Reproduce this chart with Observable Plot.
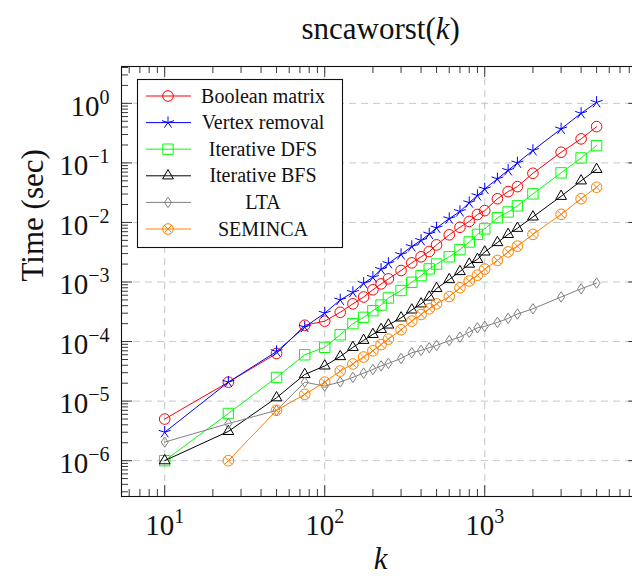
<!DOCTYPE html>
<html><head><meta charset="utf-8">
<script src="https://cdn.jsdelivr.net/npm/d3@7"></script>
<script src="https://cdn.jsdelivr.net/npm/@observablehq/plot@0.6"></script>
<style>
html,body{margin:0;padding:0;background:#fff;overflow:hidden;width:632px;height:576px;}
#wrap{position:relative;width:632px;height:576px;overflow:hidden;}
#wrap svg.plot{overflow:hidden;}
#legend{position:absolute;left:137px;top:79px;overflow:visible;}
</style></head>
<body><div id="wrap"></div>
<script>
// ---------- data ----------
const k = [10,25,50,75,100,125,150,175,200,225,250,300,350,400,450,500,600,700,800,900,1000,1200,1400,1600,2000,3000,4000,5000];
const booleanMatrix = [5.0e-6,2.08e-5,6.3e-5,1.88e-4,2.2e-4,3.1e-4,4.3e-4,5.6e-4,7.4e-4,9.3e-4,1.13e-3,1.56e-3,2.1e-3,2.65e-3,3.25e-3,4.2e-3,6.2e-3,8.3e-3,1.04e-2,1.36e-2,1.58e-2,2.5e-2,3.3e-2,4.0e-2,6.7e-2,0.151,0.253,0.406];
const vertexRemoval = [3.0e-6,2.08e-5,6.8e-5,1.75e-4,3.0e-4,5.0e-4,6.7e-4,9.5e-4,1.2e-3,1.63e-3,2.05e-3,2.9e-3,3.95e-3,5.0e-3,6.4e-3,8.1e-3,1.16e-2,1.53e-2,2.15e-2,2.83e-2,3.66e-2,5.4e-2,7.5e-2,0.1,0.162,0.372,0.68,1.04];
const iterativeDFS = [1.0e-6,6.2e-6,2.5e-5,6.0e-5,8.0e-5,1.3e-4,2.0e-4,2.55e-4,3.3e-4,4.1e-4,5.4e-4,7.2e-4,9.9e-4,1.28e-3,1.66e-3,2.0e-3,2.65e-3,3.5e-3,4.7e-3,6.3e-3,7.8e-3,1.2e-2,1.5e-2,1.9e-2,3.02e-2,6.8e-2,0.121,0.195];
const iterativeBFS = [1.0e-6,3.1e-6,1.14e-5,2.8e-5,3.9e-5,5.6e-5,8.0e-5,1.05e-4,1.32e-4,1.6e-4,1.9e-4,2.5e-4,3.4e-4,4.3e-4,5.6e-4,7.8e-4,1.1e-3,1.5e-3,2.0e-3,2.4e-3,3.2e-3,4.6e-3,6.3e-3,8.0e-3,1.24e-2,2.75e-2,5.0e-2,7.8e-2];
const lta = [2.05e-6,4.2e-6,7.0e-6,2.08e-5,1.79e-5,2.1e-5,2.5e-5,2.95e-5,3.4e-5,3.9e-5,4.3e-5,5.2e-5,6.5e-5,7.1e-5,7.9e-5,8.6e-5,1.04e-4,1.19e-4,1.44e-4,1.7e-4,1.8e-4,2.1e-4,2.45e-4,2.9e-4,3.55e-4,5.6e-4,7.7e-4,9.6e-4];
const seminca = [null,1.0e-6,7.0e-6,1.3e-5,2.08e-5,3.2e-5,4.2e-5,5.5e-5,7.0e-5,8.9e-5,1.1e-4,1.58e-4,2.2e-4,2.85e-4,3.55e-4,4.3e-4,5.7e-4,8.0e-4,1.04e-3,1.3e-3,1.65e-3,2.3e-3,3.2e-3,4.0e-3,6.3e-3,1.37e-2,2.5e-2,3.9e-2];

const seriesNames = ["Boolean matrix","Vertex removal","Iterative DFS","Iterative BFS","LTA","SEMINCA"];
const seriesValues = [booleanMatrix, vertexRemoval, iterativeDFS, iterativeBFS, lta, seminca];
const seriesColors = ["#ff0000","#0000ff","#00ff00","#000000","#808080","#ff8000"];

const xTickExps = [1,2,3];
const yTickExps = [-6,-5,-4,-3,-2,-1,0];
const titleText = "sncaworst(k)";
const xLabel = "k";
const yLabel = "Time (sec)";

// ---------- symbols ----------
const R = s => Math.sqrt(s/Math.PI);
const symCircle = {draw(c,s){const r=R(s); c.moveTo(r,0); c.arc(0,0,r,0,2*Math.PI);}};
const symStar = {draw(c,s){const r=R(s); for(let i=0;i<5;i++){const a=-Math.PI/2+i*2*Math.PI/5; c.moveTo(0,0); c.lineTo(r*Math.cos(a), r*Math.sin(a));}}};
const symSquare = {draw(c,s){const r=R(s); c.moveTo(-r,-r); c.lineTo(r,-r); c.lineTo(r,r); c.lineTo(-r,r); c.closePath();}};
const symTri = {draw(c,s){const r=R(s); c.moveTo(0,-r); c.lineTo(r*0.866,r*0.5); c.lineTo(-r*0.866,r*0.5); c.closePath();}};
const symDiamond = {draw(c,s){const r=R(s); c.moveTo(0,-r); c.lineTo(0.68*r,0); c.lineTo(0,r); c.lineTo(-0.68*r,0); c.closePath();}};
const symOtimes = {draw(c,s){const r=R(s); c.moveTo(r,0); c.arc(0,0,r,0,2*Math.PI); const d=r/Math.SQRT2; c.moveTo(-d,-d); c.lineTo(d,d); c.moveTo(-d,d); c.lineTo(d,-d);}};
const seriesSymbols = [symCircle, symStar, symSquare, symTri, symDiamond, symOtimes];
const seriesR = [5.3, 6.2, 5.2, 6.2, 5.2, 5.3];

// ---------- layout ----------
const width = 632, height = 576;
const mL = 121, mT = 66, mB = 80, mR = -7.3;
const frameW = width - mL - mR, frameH = height - mT - mB;
const majorLen = 11, minorLen = 7;

const xMajor = xTickExps.map(e => 10**e);
const yMajor = yTickExps.map(e => 10**e);
const xDomain = [10**0.7301, 10**3.9689];
const yDomain = [10**-6.6017, 10**0.6187];
const minorIn = (lo, hi) => { const out=[]; for(let e=-8;e<=5;e++) for(let m=2;m<=9;m++){const v=m*10**e; if(v>lo*1.0001 && v<hi*0.9999) out.push(v);} return out; };
const xMinor = minorIn(xDomain[0], xDomain[1]);
const yMinor = minorIn(yDomain[0], yDomain[1]);

const sup = e => "10^" + (e < 0 ? "\u2212" + (-e) : String(e));

const marks = [
  Plot.ruleX(xMajor, {x: d=>d, stroke: "#c8c8c8", strokeWidth: 1, strokeDasharray: "7,5"}),
  Plot.ruleY(yMajor, {y: d=>d, stroke: "#c8c8c8", strokeWidth: 1, strokeDasharray: "7,5"}),
];
seriesNames.forEach((name, i) => {
  const data = k.map((x, j) => ({k: x, t: seriesValues[i][j]})).filter(d => d.t != null);
  marks.push(Plot.line(data, {x: "k", y: "t", stroke: seriesColors[i], strokeWidth: 1}));
  marks.push(Plot.dot(data, {x: "k", y: "t", symbol: seriesSymbols[i], r: seriesR[i], stroke: seriesColors[i], fill: "none", strokeWidth: 1}));
});
const tk = {stroke: "#222", strokeWidth: 0.9};
marks.push(
  Plot.ruleX(xMajor, {x: d=>d, insetTop: frameH - majorLen, ...tk}),
  Plot.ruleX(xMajor, {x: d=>d, insetBottom: frameH - majorLen, ...tk}),
  Plot.ruleX(xMinor, {x: d=>d, insetTop: frameH - minorLen, ...tk}),
  Plot.ruleX(xMinor, {x: d=>d, insetBottom: frameH - minorLen, ...tk}),
  Plot.ruleY(yMajor, {y: d=>d, insetRight: frameW - majorLen, ...tk}),
  Plot.ruleY(yMajor, {y: d=>d, insetLeft: frameW - majorLen, ...tk}),
  Plot.ruleY(yMinor, {y: d=>d, insetRight: frameW - minorLen, ...tk}),
  Plot.ruleY(yMinor, {y: d=>d, insetLeft: frameW - minorLen, ...tk}),
  Plot.frame({stroke: "#111", strokeWidth: 1.1}),
  Plot.text(xTickExps, {x: e => 10**e, frameAnchor: "bottom", dy: 38, lineAnchor: "bottom", text: sup, fontSize: 29, fill: "#111"}),
  Plot.text(yTickExps, {y: e => 10**e, frameAnchor: "left", dx: -12, textAnchor: "end", lineAnchor: "middle", dy: 3, text: sup, fontSize: 29, fill: "#111"}),
  Plot.text([titleText], {frameAnchor: "top", dy: -28, lineAnchor: "bottom", fontSize: 31, fill: "#111"}),
  Plot.text([xLabel], {frameAnchor: "bottom", dy: 72, lineAnchor: "bottom", fontSize: 31, fontStyle: "italic", fill: "#111"}),
  Plot.text([yLabel], {frameAnchor: "left", dx: -79, rotate: -90, lineAnchor: "bottom", fontSize: 31, fill: "#111"})
);

const chart = Plot.plot({
  width, height,
  marginLeft: mL, marginRight: mR, marginTop: mT, marginBottom: mB,
  x: {type: "log", domain: xDomain, axis: null},
  y: {type: "log", domain: yDomain, axis: null},
  style: {fontFamily: "'Liberation Serif', serif", background: "white", overflow: "hidden"},
  marks
});

// superscripts and italic in texts
const NS = "http://www.w3.org/2000/svg";
chart.querySelectorAll("text").forEach(t => {
  const s = t.textContent;
  const m = /^10\^(.+)$/.exec(s);
  if (m) {
    t.textContent = "10";
    const ts = document.createElementNS(NS, "tspan");
    ts.setAttribute("dy", "-12");
    ts.setAttribute("font-size", "20");
    ts.textContent = m[1];
    t.appendChild(ts);
  } else if (s === titleText) {
    t.textContent = "sncaworst(";
    const it = document.createElementNS(NS, "tspan");
    it.setAttribute("font-style", "italic");
    it.textContent = "k";
    t.appendChild(it);
    const cl = document.createElementNS(NS, "tspan");
    cl.textContent = ")";
    t.appendChild(cl);
  }
});
document.getElementById("wrap").appendChild(chart);

// ---------- legend ----------
const lw = 205, lh = 168, rowStep = 26.6, row0 = 17;
const leg = d3.select("#wrap").append("svg").attr("id", "legend").attr("width", lw + 2).attr("height", lh + 2);
leg.append("rect").attr("x", 0.5).attr("y", 0.5).attr("width", lw).attr("height", lh).attr("fill", "white").attr("stroke", "#111").attr("stroke-width", 1.1);
seriesNames.forEach((name, i) => {
  const y = row0 + i * rowStep;
  const g = leg.append("g");
  g.append("line").attr("x1", 9).attr("x2", 54).attr("y1", y).attr("y2", y).attr("stroke", seriesColors[i]).attr("stroke-width", 1);
  g.append("path").attr("transform", `translate(31,${y})`).attr("d", d3.symbol(seriesSymbols[i], Math.PI * seriesR[i] ** 2)()).attr("fill", "none").attr("stroke", seriesColors[i]).attr("stroke-width", 1);
  g.append("text").attr("x", 126).attr("y", y + 6.5).attr("text-anchor", "middle").attr("font-family", "'Liberation Serif', serif").attr("font-size", 20).attr("fill", "#111").text(name);
});
</script>
</body></html>
